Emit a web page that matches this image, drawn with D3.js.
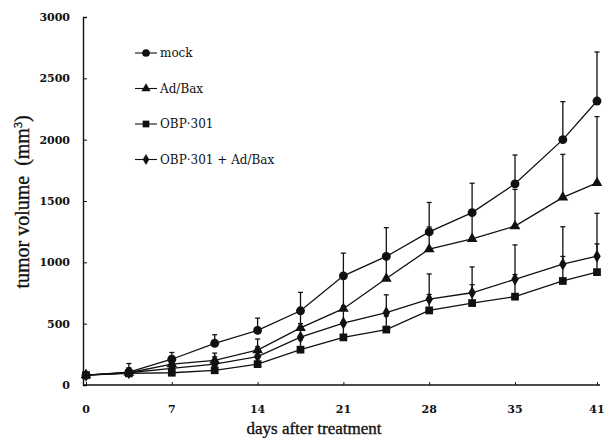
<!DOCTYPE html>
<meta charset="utf-8">
<style>
body { margin: 0; background: #fff; }
.legend text { font-family: "DejaVu Serif", serif; font-size: 12px; fill: #111; }
.title { font-family: "Liberation Serif", serif; fill: #111; stroke: #111; stroke-width: 0.35px; }
</style>
<svg width="609" height="439"></svg>
<script src="https://d3js.org/d3.v7.min.js"></script>
<script>
// measurement days (plotted at 3.5 day steps, last one is day 41)
var days = [0, 3.5, 7, 10.5, 14, 17.5, 21, 24.5, 28, 31.5, 35, 38.5, 41];

var mock     = [80, 105, 210, 340, 445, 605, 890, 1048, 1248, 1405, 1640, 2000, 2315];
var mockSd   = [20, 70, 55, 70, 100, 150, 185, 235, 240, 240, 235, 310, 400];
var adBax    = [80, 100, 170, 200, 285, 465, 622, 868, 1108, 1192, 1295, 1530, 1648];
var adBaxSd  = [20, 40, 45, 60, 90, 120, 250, 200, 180, 230, 300, 350, 540];
var obp      = [80, 95, 100, 120, 170, 288, 388, 452, 608, 668, 720, 848, 920];
var obpSd    = [15, 25, 30, 40, 60, 80, 100, 110, 130, 150, 180, 200, 230];
var combo    = [80, 100, 135, 170, 232, 390, 505, 590, 700, 752, 862, 985, 1050];
var comboSd  = [20, 35, 50, 60, 80, 110, 140, 145, 205, 210, 280, 305, 350];

var seriesNames = ["mock", "Ad/Bax", "OBP\u00b7301", "OBP\u00b7301 + Ad/Bax"];
var xTicks = [0, 7, 14, 21, 28, 35, 41];
var yTicks = [0, 500, 1000, 1500, 2000, 2500, 3000];

var series = [
  {name: seriesNames[0], values: mock, sd: mockSd, sym: d3.symbolCircle, size: 62},
  {name: seriesNames[1], values: adBax, sd: adBaxSd, sym: d3.symbolTriangle, size: 50},
  {name: seriesNames[2], values: obp, sd: obpSd, sym: d3.symbolSquare, size: 60},
  {name: seriesNames[3], values: combo, sd: comboSd, sym: d3.symbolDiamond, size: 48}
];

var svg = d3.select("svg");

// last day is drawn one step after day 35 + 3.5, as in the figure
var x = d3.scaleLinear().domain([0, 35, 41]).range([86, 515, 597]);
var y = d3.scaleLinear().domain([0, 3000]).range([385, 17]);

var ink = "#111";

// axes
var yAxis = svg.append("g")
    .attr("transform", "translate(83,0)")
    .call(d3.axisRight(y).tickValues(yTicks).tickSize(4).tickFormat(""));
yAxis.select(".domain").attr("stroke", ink).attr("stroke-width", 1.4);
yAxis.selectAll(".tick line").attr("stroke", ink);

svg.append("g")
  .selectAll("text").data(yTicks).enter().append("text")
    .attr("x", 70).attr("y", function(d) { return y(d) + 4; })
    .attr("text-anchor", "end")
    .style("font-family", "DejaVu Serif, serif").style("font-weight", "bold").style("font-size", "11px")
    .attr("fill", ink)
    .text(function(d) { return d; });

var xAxis = svg.append("g")
    .attr("transform", "translate(0,385)")
    .call(d3.axisTop(x).tickValues(xTicks).tickSize(3).tickFormat(""));
xAxis.select(".domain").attr("d", "M83,0H600").attr("stroke", ink).attr("stroke-width", 1.4);
xAxis.selectAll(".tick line").attr("stroke", ink);

svg.append("g")
  .selectAll("text").data(xTicks).enter().append("text")
    .attr("x", function(d) { return x(d); }).attr("y", 413)
    .attr("text-anchor", "middle")
    .style("font-family", "DejaVu Serif, serif").style("font-weight", "bold").style("font-size", "11px")
    .attr("fill", ink)
    .text(function(d) { return d; });

// axis titles
svg.append("text").attr("class", "title")
    .attr("x", 314).attr("y", 434)
    .attr("text-anchor", "middle")
    .style("font-size", "17px")
    .text("days after treatment");

var yt = svg.append("text").attr("class", "title")
    .attr("transform", "translate(29,202) rotate(-90)")
    .attr("text-anchor", "middle")
    .style("font-size", "20px");
yt.append("tspan").text("tumor volume\u2002(mm");
yt.append("tspan").attr("dy", -7).style("font-size", "12px").text("3");
yt.append("tspan").attr("dy", 7).text(")");

// lines
var line = d3.line()
    .x(function(d, i) { return x(days[i]); })
    .y(function(d) { return y(d); });

svg.append("g").selectAll("path").data(series).enter().append("path")
    .attr("d", function(s) { return line(s.values); })
    .attr("fill", "none").attr("stroke", ink).attr("stroke-width", 1.3);

// error bars (upper half only)
series.forEach(function(s) {
  var g = svg.append("g").attr("stroke", ink).attr("stroke-width", 1.3);
  s.values.forEach(function(v, i) {
    var cx = x(days[i]), top = y(v + s.sd[i]);
    g.append("line").attr("x1", cx).attr("x2", cx).attr("y1", y(v)).attr("y2", top);
    g.append("line").attr("x1", cx - 2.5).attr("x2", cx + 2.5).attr("y1", top).attr("y2", top);
  });
});

// markers
series.forEach(function(s) {
  svg.append("g").selectAll("path").data(s.values).enter().append("path")
    .attr("d", d3.symbol().type(s.sym).size(s.size))
    .attr("transform", function(d, i) { return "translate(" + x(days[i]) + "," + y(d) + ")"; })
    .attr("fill", ink);
});

// legend
var legend = svg.append("g").attr("class", "legend");
series.forEach(function(s, i) {
  var ly = 53 + i * 35.5;
  legend.append("line").attr("x1", 135).attr("x2", 157).attr("y1", ly).attr("y2", ly)
      .attr("stroke", ink).attr("stroke-width", 1.1);
  legend.append("path")
      .attr("d", d3.symbol().type(s.sym).size(s.size * 0.75))
      .attr("transform", "translate(146," + ly + ")")
      .attr("fill", ink);
  legend.append("text").attr("x", 160).attr("y", ly + 4).text(s.name);
});
</script>
